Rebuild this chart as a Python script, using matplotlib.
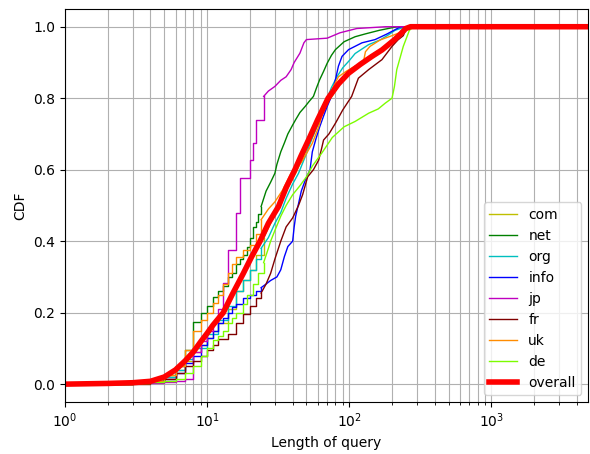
import matplotlib
matplotlib.use("Agg")
import matplotlib.pyplot as plt

# Query-length CDF points per TLD: (length, cumulative fraction)
com_len = [1, 3, 4, 5, 6, 7, 8, 9, 10, 11, 12, 14, 16, 18, 20, 22, 25, 28, 32, 36, 42, 48, 55, 62, 70, 80, 90, 100, 130, 170, 200, 240, 270, 4800]
com_cdf = [0, 0.003, 0.008, 0.02, 0.04, 0.065, 0.09, 0.11, 0.13, 0.15, 0.17, 0.21, 0.26, 0.29, 0.32, 0.36, 0.41, 0.45, 0.50, 0.54, 0.59, 0.64, 0.69, 0.74, 0.785, 0.82, 0.85, 0.87, 0.91, 0.94, 0.96, 0.985, 1.0, 1.0]

net_len = [1, 3, 4, 5, 6, 7, 8, 9, 10, 11, 12, 13, 14, 15, 16, 17, 18, 19, 20, 21, 22, 23, 24, 26, 28, 30, 31, 33, 35, 37, 40, 42, 45, 49, 52, 56, 59, 62, 66, 70, 75, 80, 92, 110, 130, 163, 217, 4800]
net_cdf = [0, 0.003, 0.008, 0.025, 0.05, 0.095, 0.175, 0.20, 0.22, 0.245, 0.26, 0.275, 0.30, 0.31, 0.335, 0.35, 0.36, 0.385, 0.41, 0.44, 0.455, 0.475, 0.497, 0.54, 0.565, 0.59, 0.615, 0.65, 0.675, 0.70, 0.725, 0.74, 0.76, 0.777, 0.79, 0.805, 0.83, 0.852, 0.875, 0.898, 0.92, 0.936, 0.958, 0.972, 0.98, 0.99, 1.0, 1.0]

org_len = [1, 3, 4, 5, 6, 7, 8, 10, 12, 14, 16, 18, 20, 22, 24, 27, 30, 33, 36, 40, 44, 50, 55, 60, 65, 70, 75, 82, 90, 100, 110, 137, 165, 190, 210, 250, 4800]
org_cdf = [0, 0.003, 0.008, 0.02, 0.04, 0.07, 0.10, 0.14, 0.18, 0.22, 0.26, 0.29, 0.32, 0.35, 0.38, 0.41, 0.45, 0.48, 0.52, 0.56, 0.59, 0.645, 0.69, 0.725, 0.76, 0.80, 0.83, 0.86, 0.885, 0.905, 0.925, 0.95, 0.963, 0.978, 0.99, 1.0, 1.0]

info_len = [1, 3, 4, 5, 6, 7, 8, 9, 10, 11, 12, 13, 14, 15, 16, 18, 20, 22, 24, 26, 28, 31, 33, 35, 37, 40, 41, 42, 44, 46, 49, 53, 55, 58, 62, 66, 70, 74, 80, 84, 89, 99, 123, 152, 185, 230, 4800]
info_cdf = [0, 0.003, 0.008, 0.015, 0.03, 0.06, 0.08, 0.11, 0.13, 0.15, 0.17, 0.185, 0.20, 0.215, 0.225, 0.24, 0.25, 0.26, 0.27, 0.28, 0.29, 0.30, 0.32, 0.357, 0.385, 0.40, 0.44, 0.47, 0.505, 0.54, 0.57, 0.60, 0.65, 0.683, 0.72, 0.75, 0.777, 0.80, 0.852, 0.89, 0.917, 0.936, 0.955, 0.964, 0.98, 1.0, 1.0]

jp_len = [1, 3, 5, 6, 7, 8, 9, 10, 11, 12, 13, 14, 16, 17, 20, 21, 22, 25, 27, 30, 33, 36, 39, 41, 45, 48, 50, 70, 86, 113, 180, 4800]
jp_cdf = [0, 0.002, 0.005, 0.01, 0.015, 0.09, 0.12, 0.15, 0.175, 0.21, 0.282, 0.375, 0.478, 0.576, 0.627, 0.675, 0.74, 0.805, 0.82, 0.833, 0.85, 0.86, 0.88, 0.90, 0.926, 0.955, 0.964, 0.968, 0.983, 0.995, 1.0, 1.0]

fr_len = [1, 4, 5, 6, 7, 8, 9, 10, 11, 12, 14, 16, 18, 20, 22, 24, 26, 28, 30, 33, 36, 40, 44, 47, 51, 56, 61, 64, 66, 72, 80, 90, 104, 116, 137, 170, 200, 220, 240, 255, 4800]
fr_cdf = [0, 0.008, 0.015, 0.03, 0.05, 0.065, 0.08, 0.095, 0.11, 0.125, 0.14, 0.17, 0.195, 0.22, 0.24, 0.255, 0.28, 0.31, 0.35, 0.40, 0.44, 0.465, 0.50, 0.53, 0.58, 0.60, 0.627, 0.66, 0.683, 0.70, 0.73, 0.767, 0.805, 0.856, 0.88, 0.908, 0.945, 0.963, 0.975, 1.0, 1.0]

uk_len = [1, 3, 4, 5, 6, 7, 8, 9, 10, 11, 12, 13, 14, 15, 16, 18, 20, 22, 24, 27, 30, 34, 39, 46, 50, 55, 61, 66, 72, 78, 84, 95, 110, 125, 130, 140, 165, 200, 250, 270, 4800]
uk_cdf = [0, 0.004, 0.01, 0.025, 0.05, 0.095, 0.15, 0.18, 0.20, 0.226, 0.25, 0.28, 0.31, 0.335, 0.357, 0.375, 0.39, 0.42, 0.46, 0.49, 0.51, 0.543, 0.59, 0.62, 0.645, 0.674, 0.72, 0.767, 0.805, 0.835, 0.86, 0.875, 0.89, 0.895, 0.93, 0.945, 0.963, 0.975, 0.99, 1.0, 1.0]

de_len = [1, 3, 4, 5, 6, 7, 8, 9, 10, 11, 12, 13, 14, 15, 16, 18, 19, 21, 23, 25, 27, 28, 30, 33, 36, 40, 45, 50, 55, 64, 76, 92, 110, 137, 160, 179, 200, 208, 216, 240, 265, 285, 4800]
de_cdf = [0, 0.002, 0.005, 0.01, 0.015, 0.03, 0.05, 0.08, 0.10, 0.123, 0.135, 0.15, 0.17, 0.185, 0.20, 0.225, 0.25, 0.28, 0.31, 0.34, 0.38, 0.40, 0.43, 0.47, 0.50, 0.53, 0.555, 0.58, 0.61, 0.646, 0.69, 0.72, 0.735, 0.758, 0.77, 0.786, 0.80, 0.833, 0.88, 0.945, 0.99, 1.0, 1.0]

overall_len = [1, 2, 3, 4, 5, 6, 7, 8, 9, 10, 11, 13, 15, 18, 20.5, 23.6, 27, 31.8, 36, 41.5, 46, 51.7, 60, 71, 84, 99, 120, 144.5, 170, 189, 210, 230, 250, 270, 4800]
overall_cdf = [0, 0.002, 0.004, 0.008, 0.02, 0.04, 0.065, 0.09, 0.118, 0.142, 0.165, 0.20, 0.25, 0.31, 0.355, 0.40, 0.45, 0.497, 0.55, 0.60, 0.64, 0.683, 0.74, 0.80, 0.84, 0.87, 0.895, 0.917, 0.935, 0.95, 0.965, 0.98, 0.995, 1.0, 1.0]

series = [
    ("com", com_len, com_cdf, "y"),
    ("net", net_len, net_cdf, "g"),
    ("org", org_len, org_cdf, "c"),
    ("info", info_len, info_cdf, "b"),
    ("jp", jp_len, jp_cdf, "m"),
    ("fr", fr_len, fr_cdf, "maroon"),
    ("uk", uk_len, uk_cdf, "darkorange"),
    ("de", de_len, de_cdf, "lawngreen"),
]

# short queries are drawn as a staircase, longer ones as a continuous trace
STEP_LIMIT = 25

fig = plt.figure(figsize=(5.9, 4.54), dpi=100)
ax = fig.add_axes([0.110, 0.1145, 0.887, 0.866])

for name, xs, ys, color in series:
    k = sum(1 for x in xs if x <= STEP_LIMIT)
    ax.plot(xs[:k], ys[:k], color=color, lw=1.0, drawstyle="steps-post", label=name)
    ax.plot(xs[k - 1:], ys[k - 1:], color=color, lw=1.0)
ax.plot(overall_len, overall_cdf, color="red", lw=4, label="overall")

ax.set_xscale("log")
ax.set_xlim(1, 4800)
ax.set_ylim(-0.05, 1.05)
ax.set_xlabel("Length of query")
ax.set_ylabel("CDF")
ax.grid(True, which="major")
ax.xaxis.grid(True, which="minor")
ax.legend(loc="lower right")

fig.savefig("out.png", dpi=100)
